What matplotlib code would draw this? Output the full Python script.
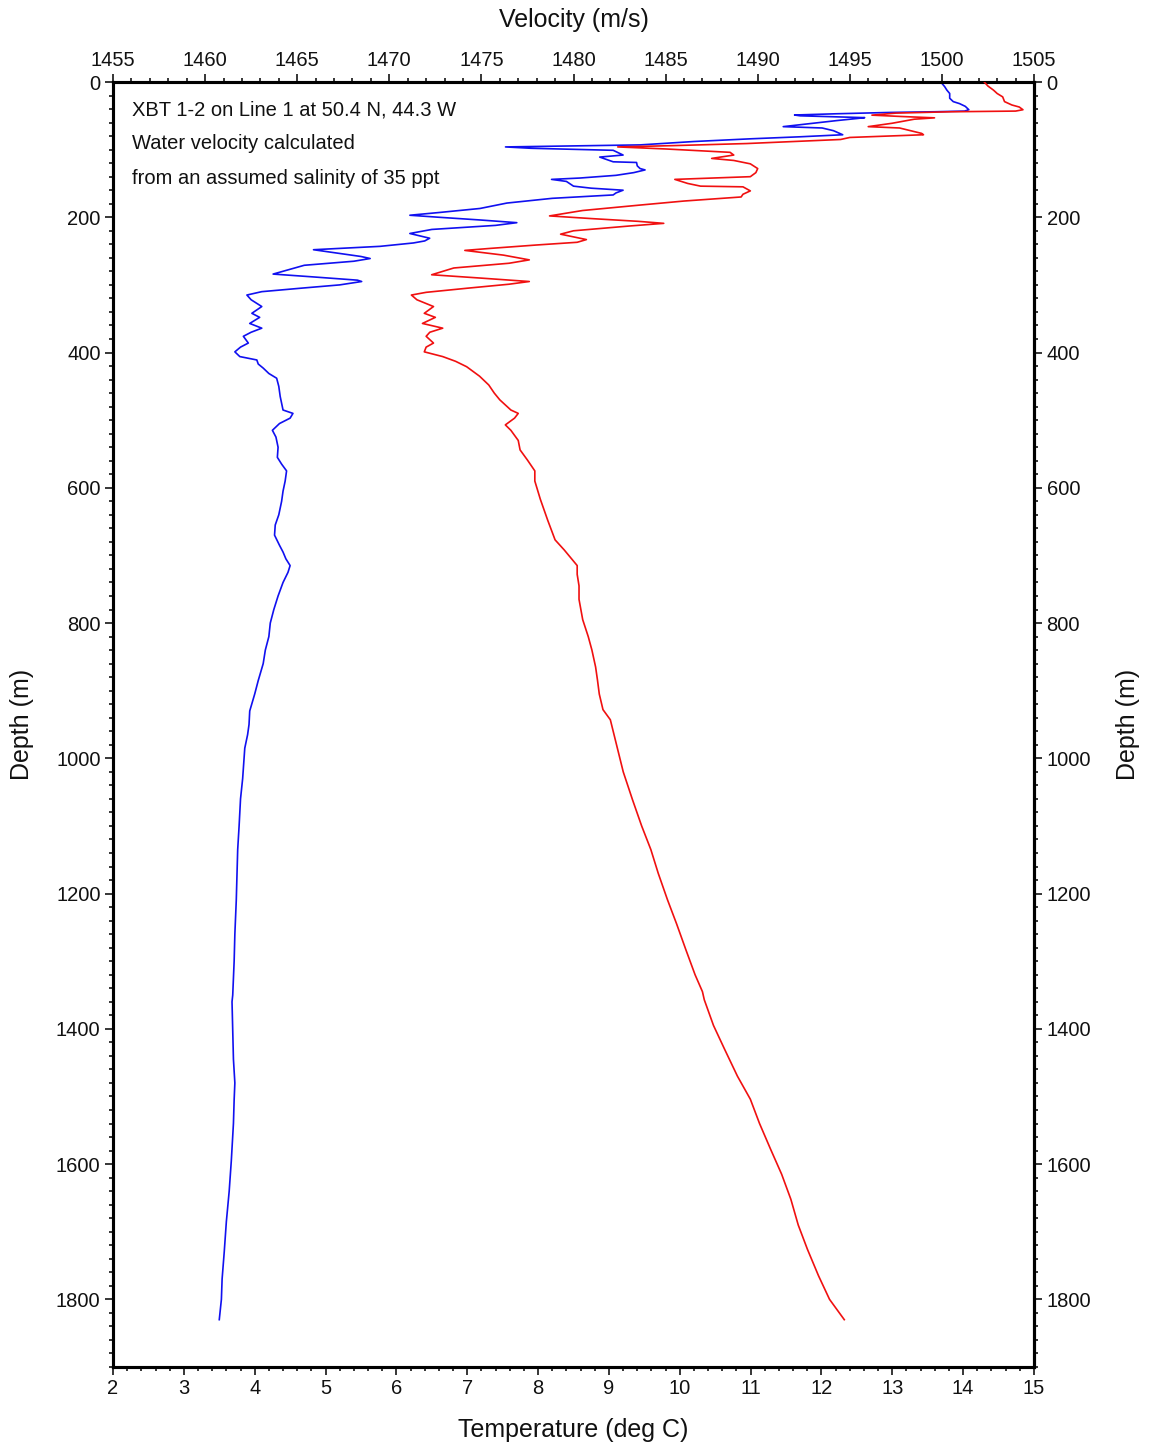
import matplotlib
matplotlib.use("Agg")
import matplotlib.pyplot as plt
from matplotlib.ticker import MultipleLocator

plt.rcParams['font.family'] = ['Liberation Sans', 'DejaVu Sans']

# XBT temperature profile (depth in m, temperature in deg C)
temp_depth = [
    0, 2, 7, 12, 17, 24, 29, 32, 36, 41, 43, 44, 45, 47, 48.8, 50, 52.7, 54, 57, 62,
    66, 68, 72, 78, 81, 84, 88, 93, 95, 96, 98, 101, 108, 111, 114, 118, 119, 124, 128, 130,
    134, 138, 142, 144, 147, 154, 157, 160, 164, 167, 172, 179, 187, 193, 197, 200, 204, 208, 212, 218,
    224, 228, 231, 235, 238, 243, 246, 248, 252, 258, 261, 265, 271, 284, 288, 293, 295, 300, 305, 310,
    315, 322, 332, 342, 348, 357, 364, 370, 376, 386, 392, 399, 406, 411, 417, 423, 431, 438, 450, 465,
    475, 485, 490, 497, 505, 515, 525, 540, 555, 565, 575, 590, 605, 620, 640, 655, 670, 685, 695, 705,
    715, 725, 740, 760, 780, 800, 820, 840, 860, 885, 905, 930, 950, 965, 985, 1000, 1030, 1060, 1100, 1135,
    1170, 1210, 1260, 1300, 1350, 1360, 1400, 1445, 1480, 1505, 1540, 1595, 1640, 1685, 1730, 1770, 1800, 1830,
]
temperature = [
    13.68, 13.70, 13.74, 13.77, 13.81, 13.81, 13.86, 13.95, 14.03, 14.08, 14.02, 13.60, 12.97, 12.20, 11.62, 11.70, 12.61, 12.50, 12.22, 11.80,
    11.46, 12.01, 12.17, 12.30, 11.70, 11.00, 10.20, 9.44, 8.20, 7.54, 7.90, 9.06, 9.20, 8.87, 8.95, 9.06, 9.39, 9.40, 9.44, 9.51,
    9.35, 9.10, 8.59, 8.19, 8.40, 8.50, 8.75, 9.20, 9.10, 9.06, 8.20, 7.56, 7.18, 6.60, 6.19, 6.60, 7.18, 7.70, 7.40, 6.50,
    6.19, 6.35, 6.47, 6.40, 6.24, 5.77, 5.20, 4.83, 5.10, 5.50, 5.63, 5.40, 4.70, 4.26, 4.80, 5.45, 5.51, 5.20, 4.64, 4.10,
    3.89, 3.95, 4.10, 3.96, 4.07, 3.93, 4.10, 3.95, 3.84, 3.91, 3.80, 3.72, 3.79, 4.03, 4.05, 4.12, 4.20, 4.31, 4.34, 4.36,
    4.38, 4.40, 4.54, 4.50, 4.35, 4.25, 4.30, 4.33, 4.32, 4.38, 4.45, 4.43, 4.40, 4.38, 4.34, 4.29, 4.28, 4.35, 4.40, 4.44,
    4.50, 4.47, 4.40, 4.33, 4.27, 4.22, 4.20, 4.15, 4.12, 4.05, 4.00, 3.93, 3.92, 3.90, 3.86, 3.85, 3.83, 3.80, 3.78, 3.76,
    3.75, 3.74, 3.72, 3.71, 3.69, 3.68, 3.69, 3.70, 3.72, 3.71, 3.70, 3.67, 3.64, 3.60, 3.57, 3.54, 3.53, 3.50,
]

# Sound velocity computed for 35 ppt salinity (depth in m, velocity in m/s)
vel_depth = [
    0, 6, 12, 17, 22, 29, 34, 37, 41, 43, 44, 46, 49, 51, 53, 55, 61, 66, 68, 72,
    76, 78, 80, 82, 85, 91, 94, 96, 99, 104, 108, 113, 116, 121, 128, 134, 140, 142, 144, 150,
    154, 155, 161, 166, 170, 176, 182, 190, 198, 202, 206, 209, 213, 220, 225, 229, 233, 237, 241, 246,
    249, 256, 263, 268, 275, 285, 290, 295, 299, 305, 311, 315, 322, 332, 342, 348, 357, 364, 370, 376,
    386, 392, 399, 406, 413, 421, 435, 448, 460, 470, 485, 490, 497, 507, 515, 530, 544, 559, 575, 590,
    617, 648, 677, 692, 705, 715, 728, 745, 765, 795, 820, 840, 865, 884, 905, 928, 943, 965, 987, 1020,
    1061, 1100, 1135, 1170, 1209, 1245, 1283, 1320, 1345, 1357, 1395, 1430, 1470, 1504, 1540, 1578, 1615, 1652, 1690, 1726,
    1765, 1800, 1830,
]
velocity = [
    1502.3, 1502.5, 1502.8, 1503.0, 1503.3, 1503.4, 1503.8, 1504.2, 1504.4, 1504.0, 1500.5, 1497.5, 1496.2, 1497.8, 1499.6, 1498.5, 1497.3, 1496.0, 1497.7, 1498.3,
    1498.9, 1499.0, 1497.0, 1495.0, 1494.5, 1489.4, 1485.5, 1482.4, 1485.0, 1488.5, 1488.7, 1487.5, 1488.7, 1489.6, 1490.0, 1489.9, 1489.6, 1487.5, 1485.5, 1486.2,
    1486.9, 1489.2, 1489.6, 1489.2, 1489.1, 1486.0, 1483.6, 1480.5, 1478.7, 1481.0, 1483.5, 1484.9, 1483.0, 1480.0, 1479.3, 1480.0, 1480.7, 1480.2, 1478.0, 1475.5,
    1474.1, 1476.2, 1477.6, 1476.5, 1473.5, 1472.3, 1475.0, 1477.6, 1476.5, 1474.2, 1472.0, 1471.2, 1471.5, 1472.4, 1471.9, 1472.5, 1471.8, 1472.9, 1472.2, 1472.0,
    1472.4, 1472.0, 1471.9, 1472.9, 1473.6, 1474.2, 1474.9, 1475.4, 1475.7, 1476.0, 1476.6, 1477.0, 1476.8, 1476.3, 1476.6, 1477.0, 1477.1, 1477.5, 1477.9, 1477.9,
    1478.2, 1478.6, 1479.0, 1479.5, 1479.9, 1480.2, 1480.2, 1480.3, 1480.3, 1480.5, 1480.8, 1481.0, 1481.2, 1481.3, 1481.4, 1481.6, 1482.0, 1482.2, 1482.4, 1482.7,
    1483.2, 1483.7, 1484.2, 1484.6, 1485.1, 1485.6, 1486.1, 1486.6, 1487.0, 1487.1, 1487.6, 1488.2, 1488.9, 1489.6, 1490.1, 1490.7, 1491.3, 1491.8, 1492.2, 1492.7,
    1493.3, 1493.9, 1494.7,
]

info_lines = [
    "XBT 1-2 on Line 1 at 50.4 N, 44.3 W",
    "Water velocity calculated",
    "from an assumed salinity of 35 ppt",
]

W, H = 1152, 1449
fig = plt.figure(figsize=(W / 100, H / 100), dpi=100)
left, right, top, bottom = 113, 1034, 82, 1367
ax = fig.add_axes([left / W, 1 - bottom / H, (right - left) / W, (bottom - top) / H])

ax.plot(temperature, temp_depth, color='#1010f0', lw=1.2, zorder=3)
ax.set_xlim(2, 15)
ax.set_ylim(1900, 0)
ax.xaxis.set_major_locator(MultipleLocator(1))
ax.xaxis.set_minor_locator(MultipleLocator(0.2))
ax.set_yticks(range(0, 1801, 200))
ax.yaxis.set_minor_locator(MultipleLocator(20))

tick_fs = 14.5
tick_kw = dict(direction='out', width=1.1, colors='black', labelsize=tick_fs, labelcolor='#111111')
minor_kw = dict(direction='out', width=1.1, colors='black', length=3)
ax.tick_params(which='major', length=6, pad=3, **tick_kw)
ax.tick_params(which='minor', **minor_kw)
ax.tick_params(which='both', top=False, right=False, bottom=True, left=True)

# Velocity on the top axis
axv = ax.twiny()
axv.plot(velocity, vel_depth, color='#f01010', lw=1.2, zorder=3)
axv.set_xlim(1455, 1505)
axv.xaxis.set_major_locator(MultipleLocator(5))
axv.xaxis.set_minor_locator(MultipleLocator(1))
axv.tick_params(which='major', length=6, pad=3, **tick_kw)
axv.tick_params(which='minor', **minor_kw)
axv.tick_params(which='both', top=True, bottom=False, labeltop=True, labelbottom=False)

# Depth repeated on the right
sec = ax.secondary_yaxis('right')
sec.set_yticks(range(0, 1801, 200))
sec.yaxis.set_minor_locator(MultipleLocator(20))
sec.tick_params(which='major', length=6, pad=3, **tick_kw)
sec.tick_params(which='minor', **minor_kw)

for a in (ax, axv, sec):
    for sp in a.spines.values():
        sp.set_linewidth(2.2)

label_kw = dict(fontsize=18, color='#111111')
ax.set_xlabel("Temperature (deg C)", **label_kw)
ax.xaxis.set_label_coords(0.5, -(1430 - bottom) / (bottom - top))
ax.xaxis.label.set_va('center')
axv.set_xlabel("Velocity (m/s)", **label_kw)
axv.xaxis.set_label_coords(0.5, 1 + (top - 20) / (bottom - top))
axv.xaxis.label.set_va('center')
ax.set_ylabel("Depth (m)", **label_kw)
ax.yaxis.set_label_coords((22 - left) / (right - left), 0.5)
ax.yaxis.label.set_va('center')
fig.text(1128 / W, 1 - (top + bottom) / 2 / H, "Depth (m)", rotation=90,
         ha='center', va='center', **label_kw)

for i, line in enumerate(info_lines):
    yc = [110, 143.5, 178][i]
    ax.text((132 - left) / (right - left), 1 - (yc - top) / (bottom - top), line,
            transform=ax.transAxes, ha='left', va='center', fontsize=14.5, color='#111111')

fig.savefig("out.png", dpi=100, facecolor='white')
